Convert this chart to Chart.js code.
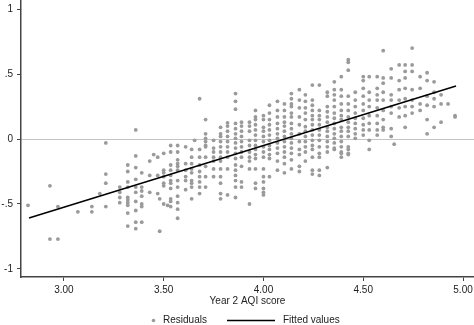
<!DOCTYPE html>
<html lang="en">
<head>
  <meta charset="UTF-8">
  <title>Residuals and fitted values by Year 2 AQI score</title>
  <script src="https://cdn.jsdelivr.net/npm/chart.js"></script>
  <style>
    html, body { margin: 0; padding: 0; background: #fff; }
  </style>
</head>
<body>
  <canvas id="aqiChart" width="474" height="325"></canvas>

  <script>
    // x positions of the AQI score columns
    const aqiLevels = [2.82, 2.93, 2.97, 3.07, 3.14, 3.18, 3.21, 3.28, 3.32, 3.36, 3.39, 3.43, 3.45, 3.47, 3.48,
      3.50, 3.52, 3.535, 3.57, 3.61, 3.64, 3.655, 3.68, 3.71, 3.75, 3.785, 3.82, 3.86, 3.89, 3.93, 3.96,
      4.00, 4.03, 4.07, 4.105, 4.14, 4.18, 4.21, 4.245, 4.28, 4.32, 4.355, 4.39, 4.425, 4.46, 4.50, 4.53,
      4.57, 4.60, 4.64, 4.655, 4.68, 4.71, 4.745, 4.785, 4.82, 4.855, 4.89, 4.925, 4.96];

    // residuals, one list per AQI column
    const residuals = [
      [-0.51],
      [-0.36, -0.77],
      [-0.52, -0.77],
      [-0.56],
      [-0.52, -0.56],
      [-0.42],
      [-0.03, -0.27, -0.34, -0.52],
      [-0.37, -0.41, -0.45, -0.49],
      [-0.20, -0.25, -0.33, -0.37, -0.45, -0.47, -0.49, -0.51, -0.57, -0.67],
      [0.07, -0.13, -0.22, -0.31, -0.37, -0.41, -0.48, -0.55, -0.64, -0.69],
      [-0.26, -0.37, -0.40, -0.44, -0.50, -0.52, -0.64],
      [-0.17, -0.28, -0.41],
      [-0.12],
      [-0.14, -0.28, -0.42],
      [-0.46, -0.71],
      [-0.11, -0.24, -0.26, -0.29, -0.34, -0.36, -0.50],
      [-0.51],
      [-0.05, -0.10, -0.20, -0.24, -0.28, -0.32, -0.34, -0.38, -0.46, -0.48, -0.52],
      [-0.05, -0.10, -0.16, -0.19, -0.21, -0.24, -0.32, -0.37, -0.44, -0.49, -0.54, -0.61],
      [-0.06, -0.19, -0.24, -0.29, -0.32, -0.39],
      [-0.08, -0.14, -0.19, -0.23, -0.26, -0.32, -0.34, -0.37, -0.46],
      [-0.01],
      [0.31, -0.08, -0.14, -0.20, -0.25, -0.29, -0.33, -0.37, -0.42],
      [0.15, 0.04, 0.005, -0.02, -0.05, -0.06, -0.14, -0.21, -0.29, -0.37],
      [-0.01, -0.07, -0.10, -0.14, -0.17, -0.23, -0.29],
      [0.09, 0.04, 0.02, -0.02, -0.06, -0.10, -0.14, -0.17, -0.23, -0.29, -0.34, -0.42, -0.46],
      [0.125, 0.10, 0.06, 0.02, -0.02, -0.06, -0.10, -0.14, -0.23, -0.43],
      [0.35, 0.29, 0.23, 0.12, 0.08, 0.04, 0.005, -0.03, -0.07, -0.11, -0.15, -0.20, -0.24, -0.28, -0.32, -0.37, -0.45],
      [0.13, 0.10, 0.06, 0.02, -0.02, -0.06, -0.10, -0.14, -0.21, -0.33, -0.37],
      [0.13, 0.10, 0.06, -0.01, -0.05, -0.10, -0.14, -0.17, -0.23, -0.50],
      [0.22, 0.17, 0.15, 0.11, 0.07, 0.03, -0.01, -0.05, -0.08, -0.12, -0.15, -0.23, -0.34, -0.38],
      [0.18, 0.15, 0.09, 0.06, 0.02, -0.02, -0.06, -0.10, -0.14, -0.23, -0.29, -0.33, -0.38, -0.41, -0.43],
      [0.26, 0.20, 0.15, 0.11, 0.07, 0.03, -0.01, -0.05, -0.08, -0.12, -0.15, -0.29],
      [0.29, 0.22, 0.17, 0.12, 0.08, 0.04, 0.005, -0.03, -0.07, -0.11, -0.17, -0.24],
      [0.27, 0.22, 0.17, 0.13, 0.10, 0.06, 0.02, -0.02, -0.06, -0.10, -0.14, -0.19, -0.26],
      [0.35, 0.31, 0.27, 0.25, 0.20, 0.17, 0.12, 0.08, 0.04, 0.005, -0.03, -0.07, -0.11, -0.16, -0.23],
      [0.38, 0.30, 0.24, 0.17, 0.11, 0.04, -0.02, -0.08, -0.12, -0.21, -0.25],
      [0.34, 0.29, 0.24, 0.20, 0.15, 0.095, 0.06, 0.02, -0.02, -0.06, -0.10, -0.17],
      [0.415, 0.30, 0.26, 0.22, 0.18, 0.15, 0.11, 0.07, 0.03, -0.01, -0.05, -0.08, -0.14, -0.24, -0.27],
      [0.415, 0.22, 0.18, 0.15, 0.11, 0.07, 0.03, -0.01, -0.06, -0.11, -0.14, -0.24, -0.28],
      [0.36, 0.33, 0.25, 0.21, 0.17, 0.13, 0.09, 0.06, 0.02, -0.02, -0.06, -0.10, -0.22],
      [0.44, 0.38, 0.34, 0.30, 0.25, 0.20, 0.16, 0.12, 0.08, 0.04, 0.005, -0.03, -0.07, -0.08],
      [0.48, 0.38, 0.33, 0.27, 0.22, 0.18, 0.15, 0.09, 0.06, 0.02, -0.02, -0.06, -0.10, -0.11, -0.14],
      [0.61, 0.59, 0.53, 0.33, 0.27, 0.22, 0.17, 0.13, 0.09, 0.06, 0.02, -0.06, -0.08, -0.11, -0.12],
      [0.36, 0.30, 0.25, 0.20, 0.16, 0.12, 0.08, 0.04, 0.005],
      [0.48, 0.45, 0.39, 0.33, 0.27, 0.22, 0.16, 0.11, 0.07, 0.03],
      [0.48, 0.36, 0.30, 0.25, 0.18, 0.12, 0.07, -0.01, -0.08],
      [0.48, 0.39, 0.34, 0.30, 0.24, 0.18, 0.12, 0.07, 0.03],
      [0.68, 0.47, 0.43, 0.36, 0.30, 0.22, 0.15, 0.09, 0.07],
      [0.54, 0.47, 0.34, 0.30, 0.25, 0.20, 0.08, 0.02],
      [-0.04],
      [0.57, 0.45, 0.38, 0.30, 0.24, 0.17],
      [0.57, 0.52, 0.47, 0.39, 0.31, 0.25, 0.18, 0.09],
      [0.70, 0.57, 0.52, 0.38, 0.30, 0.25, 0.20],
      [0.48, 0.39, 0.27, 0.22],
      [0.51, 0.45, 0.33, 0.26, 0.15, 0.04],
      [0.44, 0.36, 0.31, 0.25, 0.09],
      [0.34, 0.27, 0.13],
      [0.27],
      [0.18, 0.17]
    ];

    // fitted regression line (end points)
    const fittedX = [2.825, 4.965];
    const fittedY = [-0.608, 0.408];

    const xTicks = [3, 3.5, 4, 4.5, 5];
    const xTickLabels = ['3.00', '3.50', '4.00', '4.50', '5.00'];
    const yTicks = [-1, -0.5, 0, 0.5, 1];
    const yTickLabels = ['-1', '-.5', '0', '.5', '1'];

    var residualPoints = [];
    aqiLevels.forEach(function (x, i) {
      residuals[i].forEach(function (y) {
        residualPoints.push({ x: x, y: y });
      });
    });
    var fittedPoints = fittedX.map(function (x, i) {
      return { x: x, y: fittedY[i] };
    });

    Chart.defaults.font.family = '"Liberation Sans", Arial, Helvetica, sans-serif';
    Chart.defaults.font.size = 10;
    Chart.defaults.color = '#222';

    // legend drawn under the axis title, like the original
    var bottomLegend = {
      id: 'bottomLegend',
      afterDraw: function (chart) {
        var ctx = chart.ctx;
        var y = 320.5;
        ctx.save();
        ctx.font = '10px "Liberation Sans", Arial, sans-serif';
        ctx.textBaseline = 'middle';
        ctx.fillStyle = '#9a9a9a';
        ctx.beginPath();
        ctx.arc(153.5, y, 1.8, 0, Math.PI * 2);
        ctx.fill();
        ctx.fillStyle = '#222';
        ctx.fillText(chart.data.datasets[1].label, 163, y);
        ctx.strokeStyle = '#000';
        ctx.lineWidth = 1.5;
        ctx.beginPath();
        ctx.moveTo(227, y);
        ctx.lineTo(275, y);
        ctx.stroke();
        ctx.fillText(chart.data.datasets[0].label, 283, y);
        ctx.restore();
      }
    };

    var ctx = document.getElementById('aqiChart').getContext('2d');
    var aqiChart = new Chart(ctx, {
      type: 'scatter',
      data: {
        datasets: [{
          label: 'Fitted values',
          data: fittedPoints,
          showLine: true,
          borderColor: '#000',
          borderWidth: 1.5,
          pointRadius: 0,
          pointHoverRadius: 0
        }, {
          label: 'Residuals',
          data: residualPoints,
          backgroundColor: '#9a9a9a',
          borderWidth: 0,
          pointRadius: 1.9
        }]
      },
      options: {
        responsive: false,
        animation: false,
        layout: { autoPadding: false, padding: { top: 0, right: 0, bottom: 18, left: 0 } },
        plugins: {
          legend: { display: false },
          tooltip: { enabled: false }
        },
        scales: {
          x: {
            type: 'linear',
            min: 2.785,
            max: 5.055,
            afterBuildTicks: function (scale) {
              scale.ticks = xTicks.map(function (v) { return { value: v }; });
            },
            afterFit: function (scale) {
              scale.height = 30;
              scale.paddingLeft = 0;
              scale.paddingRight = 0;
            },
            ticks: {
              padding: 3,
              maxRotation: 0,
              callback: function (value) {
                return xTickLabels[xTicks.indexOf(value)];
              }
            },
            grid: { drawOnChartArea: false, color: '#444', tickLength: 4 },
            border: { color: '#444', width: 1.5 },
            title: {
              display: true,
              text: 'Year 2 AQI score',
              padding: { top: 0, bottom: 0 },
              font: { size: 10 }
            }
          },
          y: {
            type: 'linear',
            min: -1.062,
            max: 1.07,
            afterBuildTicks: function (scale) {
              scale.ticks = yTicks.map(function (v) { return { value: v }; });
            },
            afterFit: function (scale) {
              scale.width = 21;
              scale.paddingTop = 0;
              scale.paddingBottom = 0;
            },
            ticks: {
              padding: 4,
              callback: function (value) {
                return yTickLabels[yTicks.indexOf(value)];
              }
            },
            grid: {
              color: function (c) {
                return c.tick && c.tick.value === 0 ? '#c4c4c4' : 'rgba(0,0,0,0)';
              },
              tickColor: '#444',
              tickLength: 4
            },
            border: { color: '#444', width: 1.5 }
          }
        }
      },
      plugins: [bottomLegend]
    });
  </script>
</body>
</html>
